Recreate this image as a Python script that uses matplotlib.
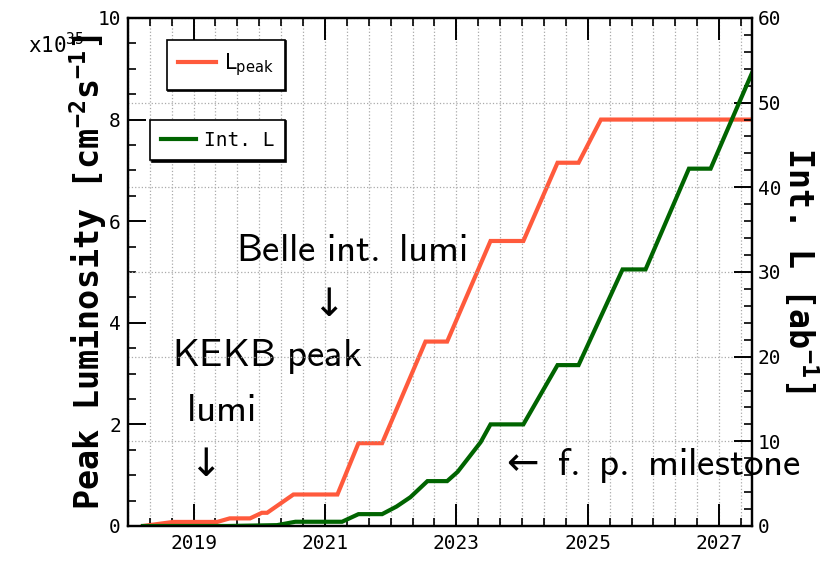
import matplotlib.pyplot as plt
from matplotlib.ticker import FixedLocator, MultipleLocator

# ---- data ----
peak_year = [2018.23, 2018.69, 2019.36, 2019.55, 2019.86, 2020.04, 2020.12, 2020.52,
             2021.19, 2021.51, 2021.87, 2022.53, 2022.86, 2023.52, 2024.02, 2024.54,
             2024.86, 2025.20, 2027.50]
peak_lumi = [0.0, 0.08, 0.08, 0.15, 0.15, 0.26, 0.26, 0.62,
             0.62, 1.63, 1.63, 3.63, 3.63, 5.61, 5.61, 7.15,
             7.15, 8.0, 8.0]            # x10^35 cm^-2 s^-1

int_year = [2018.23, 2019.51, 2020.27, 2020.55, 2021.26, 2021.51, 2021.87, 2022.09,
            2022.30, 2022.56, 2022.86, 2023.02, 2023.37, 2023.52, 2024.02, 2024.54,
            2024.86, 2025.53, 2025.88, 2026.54, 2026.87, 2027.50]
int_lumi = [0.0, 0.0, 0.1, 0.5, 0.5, 1.4, 1.4, 2.3,
            3.4, 5.3, 5.3, 6.4, 9.9, 12.0, 12.0, 19.0,
            19.0, 30.3, 30.3, 42.2, 42.2, 53.5]   # ab^-1

year_ticks = [2019, 2021, 2023, 2025, 2027]
peak_ticks = [0, 2, 4, 6, 8, 10]
int_ticks = [0, 10, 20, 30, 40, 50, 60]

ORANGE = '#ff5a3c'
GREEN = '#006400'
MONO = 'DejaVu Sans Mono'

plt.rcParams['mathtext.default'] = 'regular'

fig = plt.figure(figsize=(8.25, 5.61), dpi=100)
ax = fig.add_axes([0.155, 0.0624, 0.7565, 0.9056])
ax2 = ax.twinx()

ax.plot(peak_year, peak_lumi, color=ORANGE, lw=3.0, label=r'L$_{peak}$', solid_joinstyle='miter')
ax2.plot(int_year, int_lumi, color=GREEN, lw=3.0, label='Int. L', solid_joinstyle='miter')

ax.set_xlim(2018, 2027.5)
ax.set_ylim(0, 10)
ax2.set_ylim(0, 60)

# ticks
ax.xaxis.set_major_locator(FixedLocator(year_ticks))
ax.xaxis.set_minor_locator(MultipleLocator(1 / 3))
ax.yaxis.set_major_locator(FixedLocator(peak_ticks))
ax.yaxis.set_minor_locator(MultipleLocator(0.5))
ax2.yaxis.set_major_locator(FixedLocator(int_ticks))
ax2.yaxis.set_minor_locator(MultipleLocator(2))

ax.tick_params(axis='x', which='major', direction='in', top=True, length=16, width=1.4, pad=6)
ax.tick_params(axis='x', which='minor', direction='in', top=True, length=6, width=1.2)
ax.tick_params(axis='y', which='major', direction='in', length=13, width=1.4, pad=5)
ax.tick_params(axis='y', which='minor', direction='in', length=6, width=1.2)
ax2.tick_params(axis='y', which='major', direction='in', length=13, width=1.4, pad=4)
ax2.tick_params(axis='y', which='minor', direction='in', length=6, width=1.2)

for a in (ax, ax2):
    for lab in a.get_xticklabels() + a.get_yticklabels():
        lab.set_fontfamily(MONO)
        lab.set_fontsize(14)
    for sp in a.spines.values():
        sp.set_linewidth(1.6)

# grid: vertical at every minor year tick, horizontal from right axis
ax.xaxis.grid(True, which='both', ls=':', color='#aaaaaa', lw=0.9)
ax2.yaxis.grid(True, which='major', ls=':', color='#aaaaaa', lw=0.9)
ax.set_axisbelow(True)

# axis titles
fig.text(88 / 825, 1 - 272 / 561, r'Peak Luminosity [cm$^{-2}$s$^{-1}$]',
         rotation=90, ha='center', va='center', family=MONO, weight='bold', fontsize=24)
fig.text(800 / 825, 1 - 270 / 561, r'Int. L [ab$^{-1}$]',
         rotation=-90, ha='center', va='center', family=MONO, weight='bold', fontsize=24)
fig.text(28 / 825, 1 - 45 / 561, r'x10$^{35}$', ha='left', va='center',
         family=MONO, fontsize=15)

# legends
leg_kw = dict(frameon=True, fancybox=False, edgecolor='black', framealpha=1,
              handlelength=1.8, handletextpad=0.4, borderpad=0.55, borderaxespad=0,
              loc='upper right', shadow={'color': 'black', 'alpha': 1, 'ox': 1, 'oy': -1})
h1, l1 = ax.get_legend_handles_labels()
h2, l2 = ax2.get_legend_handles_labels()
leg1 = ax2.legend(h1, l1, bbox_to_anchor=(0.2516, 0.957), prop={'size': 15}, **leg_kw)
leg1.get_frame().set_linewidth(1.2)
ax2.add_artist(leg1)
leg2 = ax2.legend(h2, l2, bbox_to_anchor=(0.2516, 0.799),
                  prop={'family': MONO, 'size': 14}, **leg_kw)
leg2.get_frame().set_linewidth(1.2)

# annotations
note_kw = dict(ha='center', va='center', fontsize=28, math_fontfamily='cm', color='black')
ax.text(2021.41, 5.43, r'$\mathsf{Belle\ int.\ lumi}$', **note_kw)
ax.text(2020.97, 4.35, r'$\downarrow$', **note_kw)
ax.text(2020.12, 3.33, r'$\mathsf{KEKB\ peak}$', **note_kw)
ax.text(2019.40, 2.28, r'$\mathsf{lumi}$', **note_kw)
ax.text(2019.10, 1.20, r'$\downarrow$', **note_kw)
ax.text(2025.96, 1.20, r'$\leftarrow\ \mathsf{f.\ p.\ milestone}$', **note_kw)

fig.savefig('out.png', dpi=100)
